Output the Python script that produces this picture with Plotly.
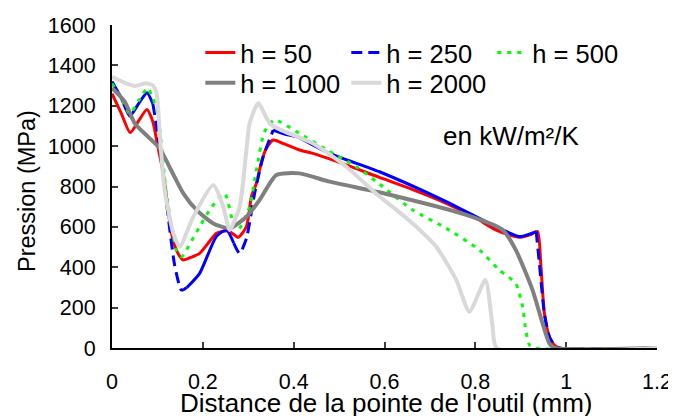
import plotly.graph_objects as go

# ---- data ----
x_h50 = [0, 0.02, 0.04, 0.06, 0.077, 0.09, 0.101, 0.113, 0.131, 0.145, 0.157, 0.175, 0.193, 0.212,
         0.230, 0.256, 0.278, 0.296, 0.307, 0.318, 0.330, 0.340, 0.355, 0.376, 0.413, 0.442, 0.516,
         0.589, 0.662, 0.736, 0.800, 0.845, 0.875, 0.900, 0.920, 0.937, 0.944, 0.952, 0.963, 0.974,
         0.985, 1.2]
y_h50 = [1260, 1165, 1067, 1130, 1182, 1121, 997, 865, 568, 470, 436, 450, 469, 520,
         568, 581, 548, 601, 750, 816, 930, 990, 1030, 1014, 981, 964, 907,
         845, 785, 717, 645, 585, 560, 548, 560, 577, 420, 172, 56, 15,
         0, 0]

x_h250 = [0, 0.02, 0.039, 0.06, 0.077, 0.09, 0.105, 0.12, 0.138, 0.153, 0.165, 0.193, 0.230, 0.252,
          0.268, 0.281, 0.296, 0.314, 0.333, 0.355, 0.380, 0.406, 0.479, 0.589, 0.736, 0.845, 0.897,
          0.920, 0.934, 0.941, 0.952, 0.963, 0.974, 0.985, 1.2]
y_h250 = [1320, 1240, 1149, 1215, 1265, 1210, 1000, 720, 410, 287, 300, 370, 553, 585,
          520, 469, 543, 766, 948, 1080, 1060, 1047, 964, 873, 725, 601, 552,
          565, 577, 420, 172, 56, 15, 0, 0]

x_h500 = [0, 0.02, 0.039, 0.06, 0.078, 0.09, 0.101, 0.12, 0.142, 0.153, 0.175, 0.193, 0.22, 0.248,
          0.267, 0.278, 0.303, 0.318, 0.336, 0.358, 0.406, 0.479, 0.538, 0.589, 0.662, 0.736, 0.809,
          0.853, 0.889, 0.904, 0.911, 0.919, 0.93, 1.2]
y_h500 = [1310, 1240, 1160, 1230, 1288, 1240, 1154, 760, 485, 452, 530, 601, 700, 766,
          617, 585, 700, 882, 1072, 1130, 1072, 973, 898, 812, 684, 593, 486,
          386, 320, 205, 89, 15, 0, 0]

x_h1000 = [0, 0.028, 0.05, 0.079, 0.105, 0.130, 0.157, 0.186, 0.223, 0.259, 0.296, 0.325, 0.362,
           0.413, 0.479, 0.600, 0.780, 0.860, 0.889, 0.926, 0.948, 0.963, 0.975, 1.2]
y_h1000 = [1288, 1220, 1113, 1047, 989, 882, 766, 684, 617, 593, 650, 733, 857,
           865, 824, 765, 659, 585, 486, 287, 122, 23, 0, 0]

x_h2000 = [0, 0.028, 0.05, 0.075, 0.09, 0.098, 0.107, 0.116, 0.135, 0.149, 0.179, 0.223, 0.245,
           0.259, 0.281, 0.296, 0.303, 0.322, 0.347, 0.369, 0.442, 0.516, 0.589, 0.626, 0.662,
           0.714, 0.758, 0.787, 0.822, 0.838, 0.847, 1.2]
y_h2000 = [1344, 1314, 1298, 1311, 1300, 1262, 1000, 780, 568, 502, 650, 807, 700,
           585, 700, 981, 1113, 1212, 1113, 1083, 1014, 898, 750, 684, 617,
           502, 337, 180, 337, 106, 0, 0]

series_names = ["h = 50", "h = 250", "h = 500", "h = 1000", "h = 2000"]
x_ticks = [0, 0.2, 0.4, 0.6, 0.8, 1, 1.2]
x_tick_labels = ["0", "0.2", "0.4", "0.6", "0.8", "1", "1.2"]
y_ticks = [0, 200, 400, 600, 800, 1000, 1200, 1400, 1600]

# ---- figure ----
FONT = "Liberation Sans, Arial, sans-serif"
SM = 0.6
fig = go.Figure()


def sub(xs, ys, a, b):
    idx = [i for i, xv in enumerate(xs) if a <= xv <= b]
    return [xs[i] for i in idx], [ys[i] for i in idx]


fig.add_trace(go.Scatter(x=x_h50, y=y_h50, mode="lines", name=series_names[0], legend="legend",
                         line=dict(color="#FF0000", width=3, shape="spline", smoothing=SM)))

# blue: continuous where points are dense, long-dashed on the steep portions (as in the reference)
solid_ranges = [(0, 0.09), (0.165, 0.268), (0.355, 0.934)]
dash_ranges = [(0.09, 0.165), (0.268, 0.355), (0.934, 1.2)]
for a, b in solid_ranges:
    sx, sy = sub(x_h250, y_h250, a, b)
    fig.add_trace(go.Scatter(x=sx, y=sy, mode="lines", name=series_names[1], showlegend=False,
                             legendgroup="b",
                             line=dict(color="#0000FF", width=3, shape="spline", smoothing=SM)))
for k, (a, b) in enumerate(dash_ranges):
    sx, sy = sub(x_h250, y_h250, a, b)
    fig.add_trace(go.Scatter(x=sx, y=sy, mode="lines", name=series_names[1], showlegend=(k == 0),
                             legendgroup="b", legend="legend",
                             line=dict(color="#0000FF", width=3, dash="11px,6px",
                                       shape="spline", smoothing=SM)))

fig.add_trace(go.Scatter(x=x_h500, y=y_h500, mode="lines", name=series_names[2], legend="legend",
                         line=dict(color="#00FF00", width=3, dash="4px,6px",
                                   shape="spline", smoothing=SM)))
fig.add_trace(go.Scatter(x=x_h1000, y=y_h1000, mode="lines", name=series_names[3], legend="legend2",
                         line=dict(color="#808080", width=4, shape="spline", smoothing=SM)))
fig.add_trace(go.Scatter(x=x_h2000, y=y_h2000, mode="lines", name=series_names[4], legend="legend2",
                         line=dict(color="#D9D9D9", width=4, shape="spline", smoothing=SM)))

fig.add_annotation(x=0.879, y=1050, xref="x", yref="y", text="en kW/m²/K", showarrow=False,
                   font=dict(family=FONT, size=26, color="black"))

# axis titles
fig.add_annotation(x=0.503, y=0, xref="paper", yref="paper", yanchor="middle", yshift=-55,
                   text="Distance de la pointe de l'outil (mm)", showarrow=False,
                   font=dict(family=FONT, size=26, color="black"))
fig.add_annotation(x=0, y=0.486, xref="paper", yref="paper", xanchor="center", xshift=-85,
                   text="Pression (MPa)", textangle=-90, showarrow=False,
                   font=dict(family=FONT, size=23.5, color="black"))

leg_common = dict(orientation="h", xanchor="left", yanchor="top",
                  bgcolor="rgba(0,0,0,0)", font=dict(family=FONT, size=25.5),
                  entrywidth=101, entrywidthmode="pixels", tracegroupgap=0, itemwidth=30)

# the page body adds an 8px offset, so the figure is sized to fit the 676x416 window
fig.update_layout(
    width=668, height=408,
    margin=dict(l=104, r=19, t=17, b=68),
    paper_bgcolor="white", plot_bgcolor="white",
    font=dict(family=FONT, color="black"),
    showlegend=True,
    legend=dict(x=0.162, y=0.986, **leg_common),
    legend2=dict(x=0.162, y=0.893, **leg_common),
    xaxis=dict(range=[0, 1.2], tickvals=x_ticks, ticktext=x_tick_labels,
               ticks="inside", ticklen=6, tickwidth=1.5, tickcolor="#404040",
               showline=True, linecolor="black", linewidth=2, showgrid=False, zeroline=False,
               tickfont=dict(family=FONT, size=21.5), ticklabelstandoff=13,
               automargin=False, layer="below traces"),
    yaxis=dict(range=[0, 1600], tickvals=y_ticks,
               ticks="inside", ticklen=6, tickwidth=1.5, tickcolor="#404040",
               showline=True, linecolor="black", linewidth=2, showgrid=False, zeroline=False,
               tickfont=dict(family=FONT, size=21.5), ticklabelstandoff=10,
               automargin=False, layer="below traces"),
)

fig.write_html("out.html")
